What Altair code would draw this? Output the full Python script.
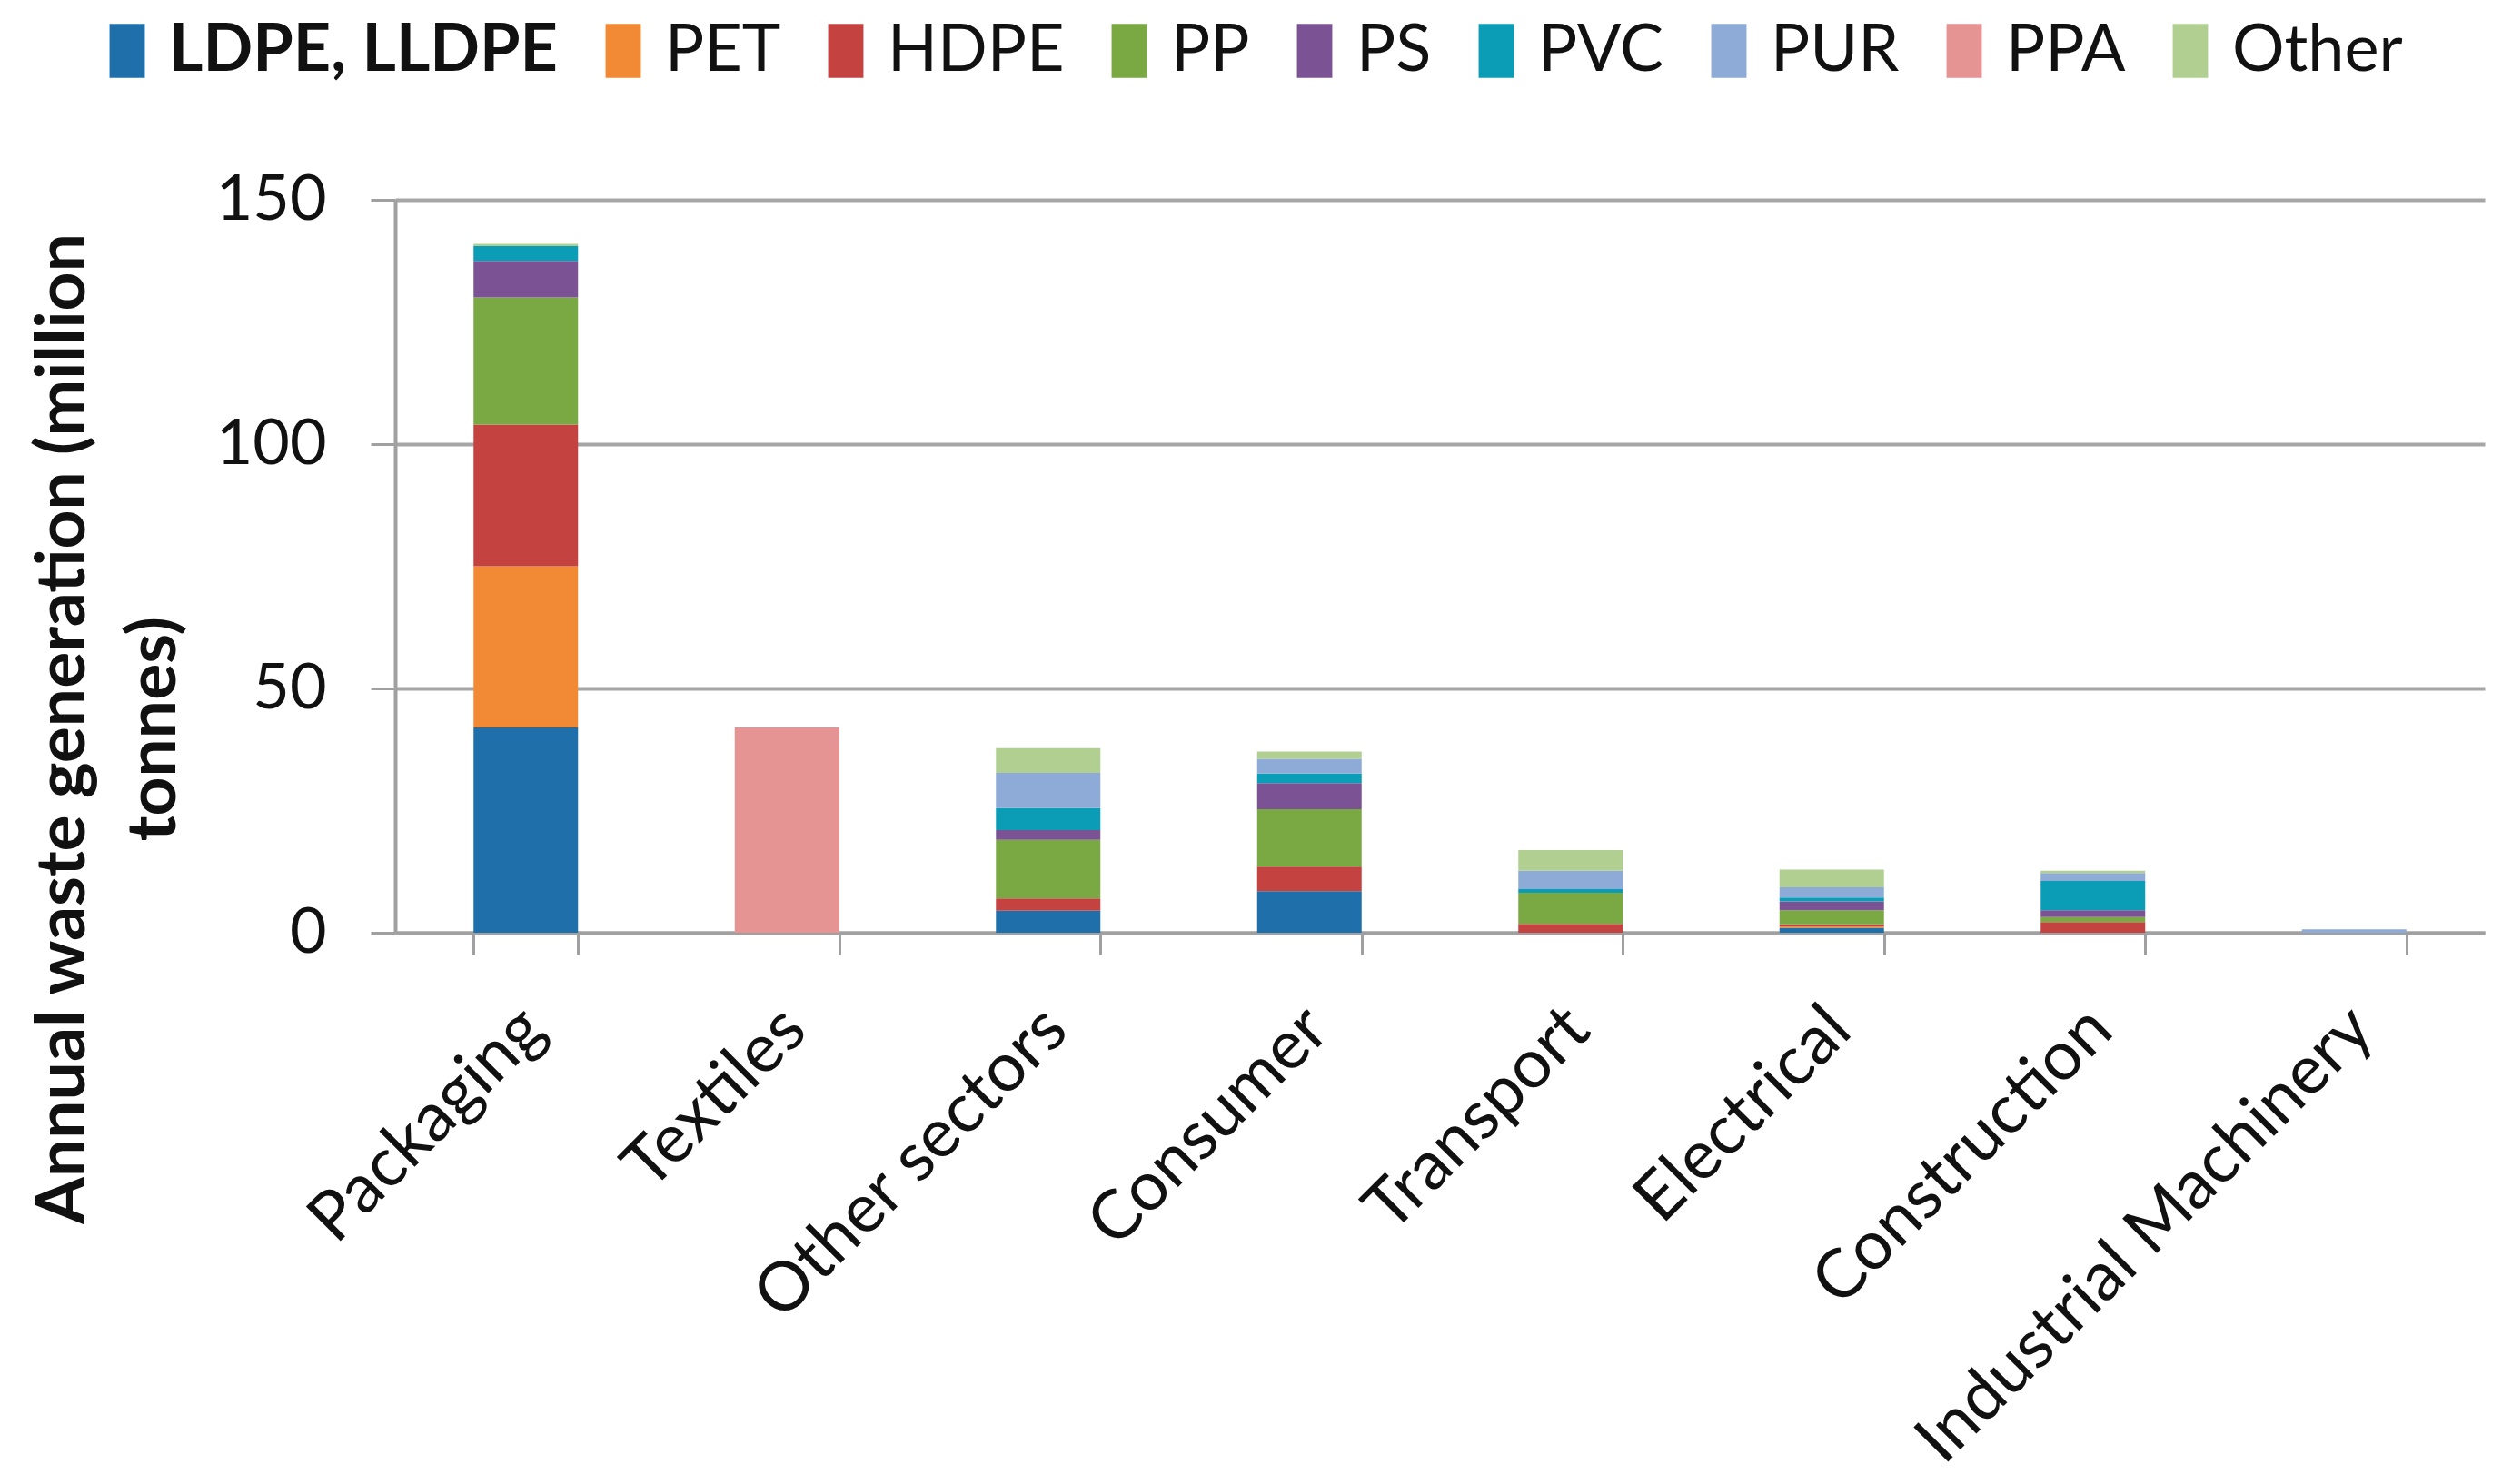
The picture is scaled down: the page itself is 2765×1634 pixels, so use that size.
import altair as alt
import pandas as pd

categories = ["Packaging", "Textiles", "Other sectors", "Consumer", "Transport",
              "Electrical", "Construction", "Industrial Machinery"]
polymers = ["LDPE, LLDPE", "PET", "HDPE", "PP", "PS", "PVC", "PUR", "PPA", "Other"]
colors = ["#1f70aa", "#f28a35", "#c44341", "#7aa843", "#7b5394",
          "#0b9db6", "#8eabd7", "#e59393", "#b0cf90"]

ldpe = [42.0, 0, 4.5, 8.5, 0, 1.0, 0, 0]
pet = [33.0, 0, 0, 0, 0, 0.3, 0, 0]
hdpe = [29.0, 0, 2.5, 5.0, 1.8, 0.4, 2.2, 0]
pp = [26.0, 0, 12.0, 11.8, 6.4, 2.9, 1.0, 0]
ps = [7.5, 0, 2.0, 5.3, 0, 1.8, 1.4, 0]
pvc = [3.0, 0, 4.5, 2.0, 0.7, 0.8, 6.0, 0]
pur = [0, 0, 7.2, 3.0, 3.8, 2.1, 1.6, 0.7]
ppa = [0, 42.0, 0, 0, 0, 0, 0, 0]
other = [0.5, 0, 5.1, 1.5, 4.2, 3.6, 0.5, 0]

series = [ldpe, pet, hdpe, pp, ps, pvc, pur, ppa, other]
rows = []
for i, (name, vals) in enumerate(zip(polymers, series)):
    for cat, v in zip(categories, vals):
        if v > 0:
            rows.append({"sector": cat, "polymer": name, "value": v, "idx": i})
df = pd.DataFrame(rows)

FONT = "Lato"

chart = alt.Chart(df).mark_bar().encode(
    x=alt.X("sector:N", sort=categories,
            scale=alt.Scale(paddingInner=0.6, paddingOuter=0.3),
            axis=alt.Axis(title=None, labelAngle=-45, labelAlign="right",
                          labelBaseline="middle", labelPadding=70, labelOffset=8,
                          tickBand="extent", tickSize=24, tickWidth=3,
                          tickColor="#a0a0a0", domainColor="#a0a0a0",
                          domainWidth=4, grid=False, labelFontSize=75,
                          labelFont=FONT, labelColor="#111111", labelLimit=1000)),
    y=alt.Y("value:Q", stack="zero",
            scale=alt.Scale(domain=[0, 150], nice=False),
            axis=alt.Axis(values=[0, 50, 100, 150],
                          title=["Annual waste generation (million", "tonnes)"],
                          titleFont=FONT, titleFontSize=75, titleFontWeight="bold",
                          titleColor="#111111", titleLineHeight=100,
                          titleAngle=-90, titleAlign="center", titleBaseline="alphabetic",
                          titleX=-343, titleY=582,
                          labelFont=FONT, labelFontSize=70, labelColor="#111111",
                          labelPadding=49, tickSize=27, tickWidth=3,
                          tickColor="#a0a0a0", domainColor="#a0a0a0", domainWidth=4,
                          grid=True, gridColor="#a6a6a6", gridWidth=4)),
    color=alt.Color("polymer:N", sort=polymers,
                    scale=alt.Scale(domain=polymers, range=colors),
                    legend=alt.Legend(title=None, orient="none", direction="horizontal",
                                      legendX=-331, legendY=-200,
                                      symbolType="M-0.72,-1.1H0.72V1.1H-0.72Z",
                                      symbolSize=2916, symbolStrokeWidth=0,
                                      labelFont=FONT, labelFontSize=72,
                                      labelColor="#111111", labelLimit=1000,
                                      labelFontWeight=alt.ExprRef("datum.label == 'LDPE, LLDPE' ? 'bold' : 'normal'"),
                                      labelOffset=10, columnPadding=35, padding=0)),
    order=alt.Order("idx:Q", sort="ascending"),
).properties(
    width=2300, height=807,
    autosize="none",
    padding={"left": 427, "top": 212, "right": 14, "bottom": 599},
).configure_view(stroke=None)

chart.save("out.html", embed_options={"renderer": "svg", "actions": False})
